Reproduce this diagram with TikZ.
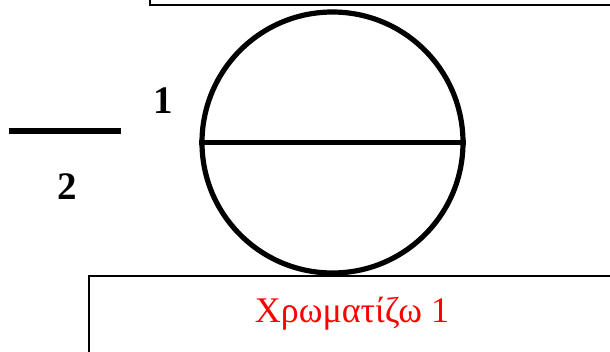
\documentclass[tikz,border=0pt]{standalone}
\usepackage{fontspec}
\setmainfont{Liberation Serif}
\begin{document}
\begin{tikzpicture}[x=1pt,y=1pt,
  thickline/.style={line width=5.2pt},
  frame/.style={draw,line width=1.3pt},
  digit/.style={font=\fontsize{39}{40}\selectfont\bfseries,anchor=base,inner sep=0pt}]
  \useasboundingbox (0,0) rectangle (610,351);
  \clip (0,0) rectangle (610,351);
  % frames cut by the edges
  \draw[frame] (150,346) rectangle (630,370);
  \draw[frame] (89,75) rectangle (630,-20);
  % circle with its diameter
  \node[circle,draw,thickline,minimum size=261pt,inner sep=0pt] (ring) at (332.5,208.5) {};
  \draw[thickline] (ring.west) -- (ring.east);
  % bar and labels
  \coordinate (barL) at (8.5,220); \coordinate (barR) at (121,220);
  \draw[thickline] (barL) -- (barR);
  \node[digit] (one) at (163,237) {1};
  \node[digit] (two) at (67,151) {2};
  \node[font=\fontsize{36}{40}\selectfont,text=red,anchor=base] (caption) at (352,29) {Χρωματίζω 1};
\end{tikzpicture}
\end{document}
